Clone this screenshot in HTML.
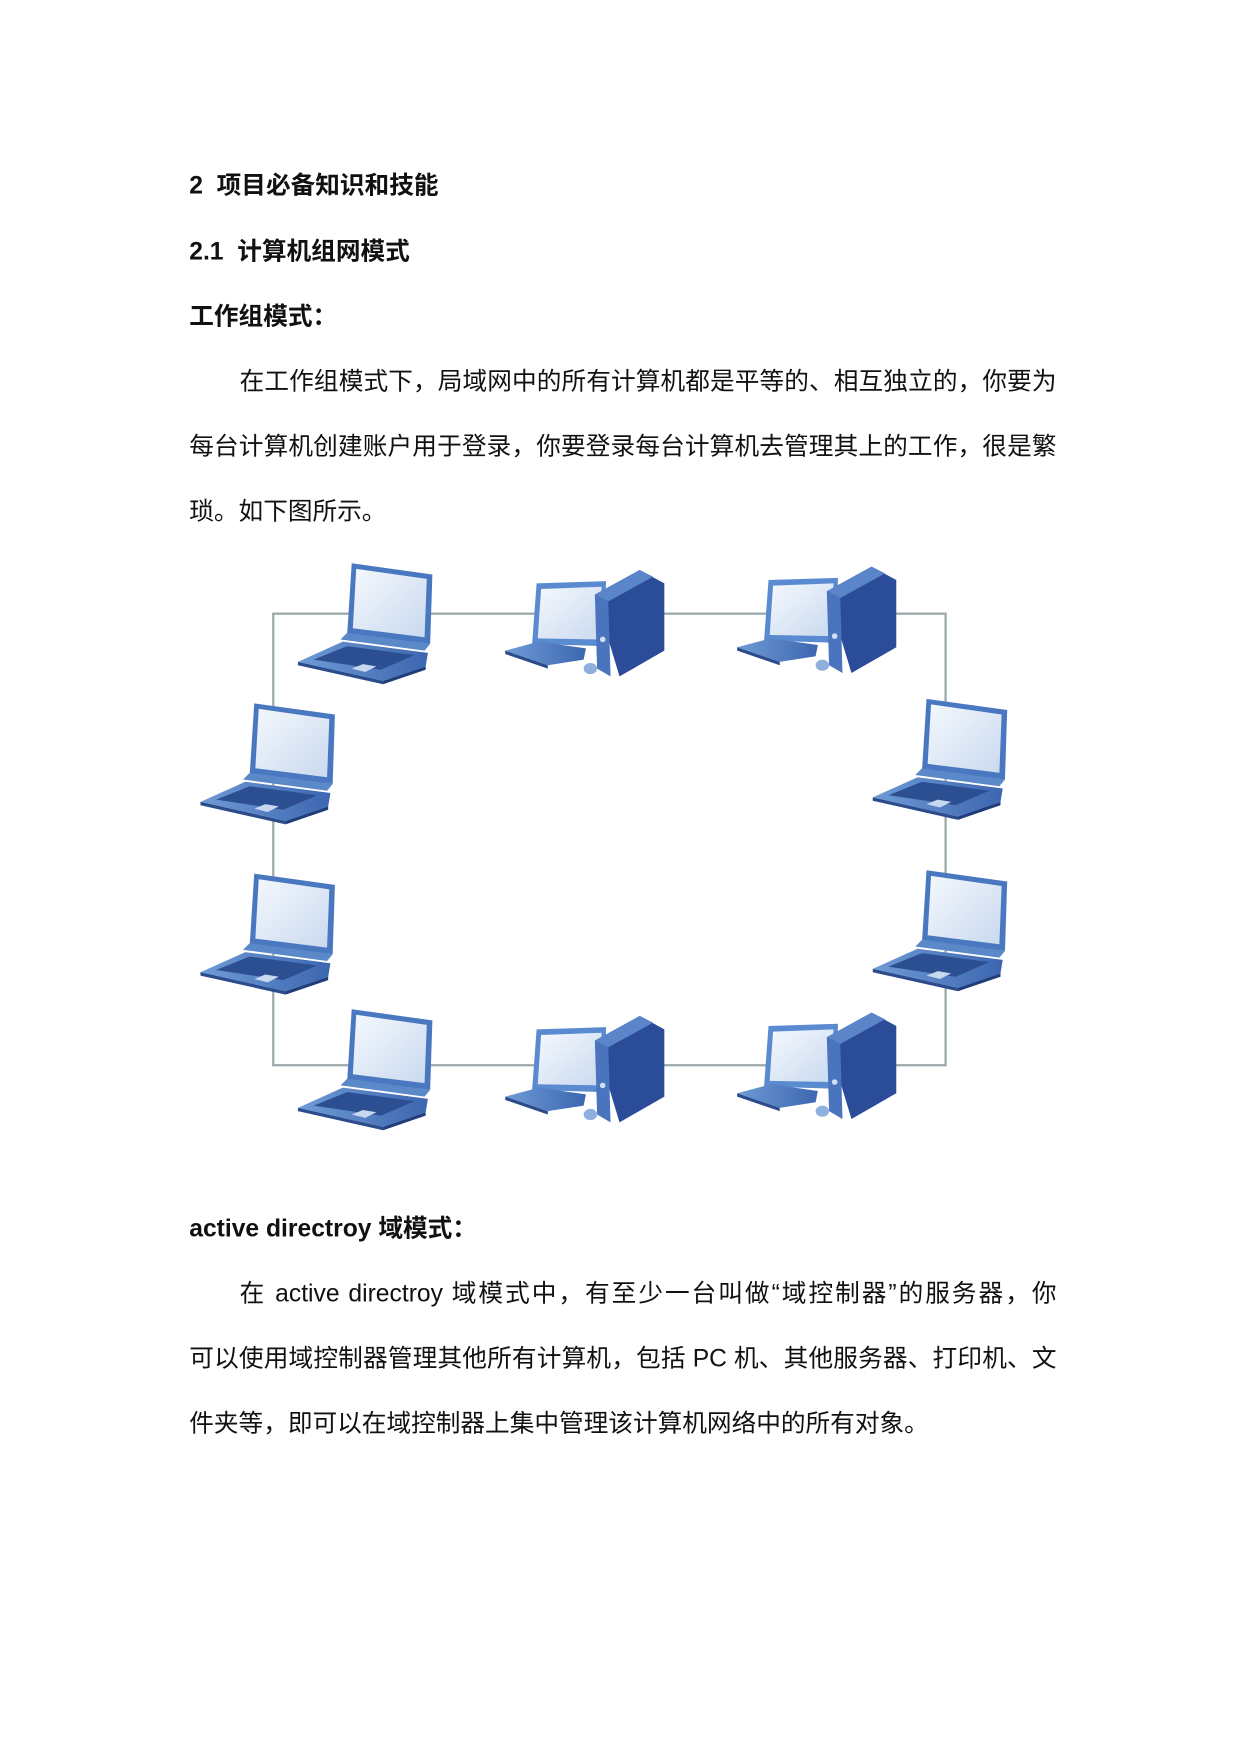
<!DOCTYPE html>
<html><head><meta charset="utf-8"><style>
html,body{margin:0;padding:0;background:#fff;width:1240px;height:1753px;overflow:hidden}
#w{position:absolute;left:1px;top:3px;width:1110px;height:1570px;transform:scale(1.1205);transform-origin:0 0;font-family:"Liberation Sans","Noto Sans CJK SC",sans-serif;color:#111}
.t{position:absolute;left:168px;font-size:22px;line-height:30px;white-space:nowrap}
.b{font-weight:bold}
.j{width:774px;text-align:justify;text-align-last:justify}
svg{position:absolute;left:0;top:0}
</style></head><body><div id="w">
<div class="t b" style="top:148px">2&nbsp; 项目必备知识和技能</div>
<div class="t b" style="top:207px">2.1&nbsp; 计算机组网模式</div>
<div class="t b" style="top:265px">工作组模式：</div>
<div class="t" style="top:323px;left:213px;width:729px;text-align:justify;text-align-last:justify">在工作组模式下，局域网中的所有计算机都是平等的、相互独立的，你要为</div>
<div class="t j" style="top:381px">每台计算机创建账户用于登录，你要登录每台计算机去管理其上的工作，很是繁</div>
<div class="t" style="top:439px">琐。如下图所示。</div>

<svg width="1110" height="1570" viewBox="0 0 1110 1570">
<defs>
<linearGradient id="scr" x1="0" y1="0" x2="1" y2="1"><stop offset="0" stop-color="#f4f8fd"/><stop offset="1" stop-color="#c9d9ef"/></linearGradient>
<linearGradient id="bl" x1="0" y1="0" x2="1" y2="0"><stop offset="0" stop-color="#6f9bd6"/><stop offset="1" stop-color="#3c66b0"/></linearGradient>
<g id="lap">
<polygon points="48,0 120,10 118,72 44,63" fill="#4a78c0"/>
<polygon points="52,5 115,14 113,66 49,58" fill="url(#scr)"/>
<polygon points="38,68 44,62 118,72 113,78" fill="#5a88c8"/>
<polygon points="0,88 40,70 116,80 114,92 76,105" fill="url(#bl)"/>
<polygon points="14,86 44,74 104,82 74,95" fill="#2c4f92"/>
<polygon points="48,94 58,90 70,92 60,97" fill="#c8d8ee"/>
<polygon points="0,88 76,105 76,108 0,91" fill="#2a4b8c"/>
<polygon points="76,105 114,92 114,95 76,108" fill="#1f3d7a"/>
</g>
<g id="pc">
<polygon points="28,12 90,10 88,68 24,66" fill="#5a8ad0"/>
<polygon points="32,17 86,15 84,62 29,61" fill="url(#scr)"/>
<polygon points="0,72 30,64 72,70 70,80 38,85" fill="url(#bl)"/>
<polygon points="0,72 38,85 38,88 0,75" fill="#2a4b8c"/>
<ellipse cx="76" cy="88" rx="6" ry="5" fill="#8fb0de"/>
<polygon points="80,22 120,0 142,12 142,72 102,95" fill="#2b4c98"/>
<polygon points="80,22 120,0 132,6 92,28" fill="#5b85c9"/>
<polygon points="80,22 92,28 94,95 82,88" fill="#4a74bd"/>
<circle cx="87" cy="62" r="2.5" fill="#cfe0f5"/>
</g>
</defs>
<rect x="243" y="545" width="600" height="403" fill="none" stroke="#9aa9aa" stroke-width="2"/>
<use href="#lap" x="265" y="500"/>
<use href="#pc" x="450" y="506"/>
<use href="#pc" x="657" y="503"/>
<use href="#lap" x="178" y="625"/>
<use href="#lap" x="178" y="777"/>
<use href="#lap" x="778" y="621"/>
<use href="#lap" x="778" y="774"/>
<use href="#lap" x="265" y="898"/>
<use href="#pc" x="450" y="904"/>
<use href="#pc" x="657" y="901"/>
</svg>

<div class="t b" style="top:1079px">active directroy 域模式：</div>
<div class="t" style="top:1137px;left:213px;width:729px;text-align:justify;text-align-last:justify">在 active directroy 域模式中，有至少一台叫做“域控制器”的服务器，你</div>
<div class="t j" style="top:1195px">可以使用域控制器管理其他所有计算机，包括 PC 机、其他服务器、打印机、文</div>
<div class="t" style="top:1253px">件夹等，即可以在域控制器上集中管理该计算机网络中的所有对象。</div>
</div></body></html>
